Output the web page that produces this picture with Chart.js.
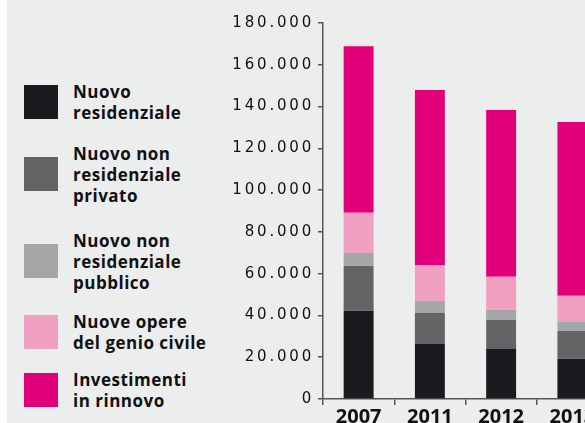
<!DOCTYPE html>
<html>
<head>
<meta charset="utf-8">
<script src="https://cdn.jsdelivr.net/npm/chart.js@4/dist/chart.umd.min.js"></script>
<style>
  html, body { margin: 0; padding: 0; background: #fff; overflow: hidden; }
  #panel { position: absolute; left: 7px; top: 0; width: 578px; height: 423px; background: #eceded; overflow: hidden; }
  #legend { position: absolute; left: 0; top: 0; }
  .item { position: absolute; left: 17px; display: flex; align-items: center; }
  .sw { width: 34px; height: 34px; flex: none; }
  .lbl { margin-left: 15px; font-family: "Open Sans", sans-serif; font-weight: 700; font-size: 17px;
         line-height: 21px; letter-spacing: 0.5px; color: #111; white-space: nowrap; }
  #chart { position: absolute; left: 203px; top: 0; }
</style>
</head>
<body>
<div id="panel">
  <div id="legend"></div>
  <canvas id="chart" width="400" height="423"></canvas>
</div>
<script>
// values in thousands of euro
const years = ['2007', '2011', '2012', '2013'];
const nuovoResidenziale = [42200, 26400, 24000, 19300];
const nonResPrivato     = [21500, 14900, 13900, 13300];
const nonResPubblico    = [6200, 5700, 4800, 4300];
const genioCivile       = [19300, 17200, 15800, 12500];
const rinnovo           = [79700, 83700, 79800, 83200];

const seriesNames = [
    ['Nuovo', 'residenziale'],
    ['Nuovo non', 'residenziale', 'privato'],
    ['Nuovo non', 'residenziale', 'pubblico'],
    ['Nuove opere', 'del genio civile'],
    ['Investimenti', 'in rinnovo']
];
const seriesData = [nuovoResidenziale, nonResPrivato, nonResPubblico, genioCivile, rinnovo];
const colors = ['#1c1a1e', '#646466', '#a5a6a8', '#f0a0c0', '#e2007a'];
const legendCenters = [102, 174, 261, 332, 390];

// legend on the left, as html
const legend = document.getElementById('legend');
seriesNames.forEach((lines, i) => {
    const item = document.createElement('div');
    item.className = 'item';
    const sw = document.createElement('div');
    sw.className = 'sw';
    sw.style.background = colors[i];
    const lbl = document.createElement('div');
    lbl.className = 'lbl';
    lbl.innerHTML = lines.join('<br>');
    item.appendChild(sw);
    item.appendChild(lbl);
    legend.appendChild(item);
    item.style.top = (legendCenters[i] - item.offsetHeight / 2) + 'px';
});

// wide spacing for the y tick labels (drawn after the bars, see ticks.z)
const spacing = {
    id: 'spacing',
    afterDatasetsDraw(chart) { chart.ctx.letterSpacing = '2.8px'; },
    afterDraw(chart) { chart.ctx.letterSpacing = '0px'; }
};

const ctx = document.getElementById('chart').getContext('2d');

const chart = new Chart(ctx, {
    type: 'bar',
    data: {
        labels: years,
        datasets: seriesData.map((d, i) => ({
            label: seriesNames[i].join(' '),
            data: d,
            backgroundColor: colors[i],
            borderWidth: 0,
            barPercentage: 0.42,
            categoryPercentage: 1
        }))
    },
    options: {
        responsive: false,
        animation: false,
        layout: { padding: { top: 23, right: 2, left: 0, bottom: 0 } },
        plugins: { legend: { display: false }, tooltip: { enabled: false } },
        scales: {
            x: {
                stacked: true,
                grid: { display: true, drawOnChartArea: false, offset: true, tickLength: 6, color: '#555', lineWidth: 1.5 },
                border: { color: '#555', width: 1.5 },
                ticks: { color: '#111', font: { family: 'Open Sans', weight: 'bold', size: 20 }, padding: 0 },
                afterFit(scale) { scale.height = 24; }
            },
            y: {
                stacked: true,
                min: 0,
                max: 180000,
                grid: { drawOnChartArea: false, tickLength: 5, color: '#555', lineWidth: 1.5 },
                border: { color: '#555', width: 1.5 },
                ticks: {
                    z: 1,
                    stepSize: 20000,
                    color: '#111',
                    font: { family: 'DejaVu Sans', size: 15 },
                    padding: 4,
                    callback: v => String(v).replace(/\B(?=(\d{3})+(?!\d))/g, '.')
                },
                afterFit(scale) { scale.width = 113; }
            }
        }
    },
    plugins: [spacing]
});
</script>
</body>
</html>
